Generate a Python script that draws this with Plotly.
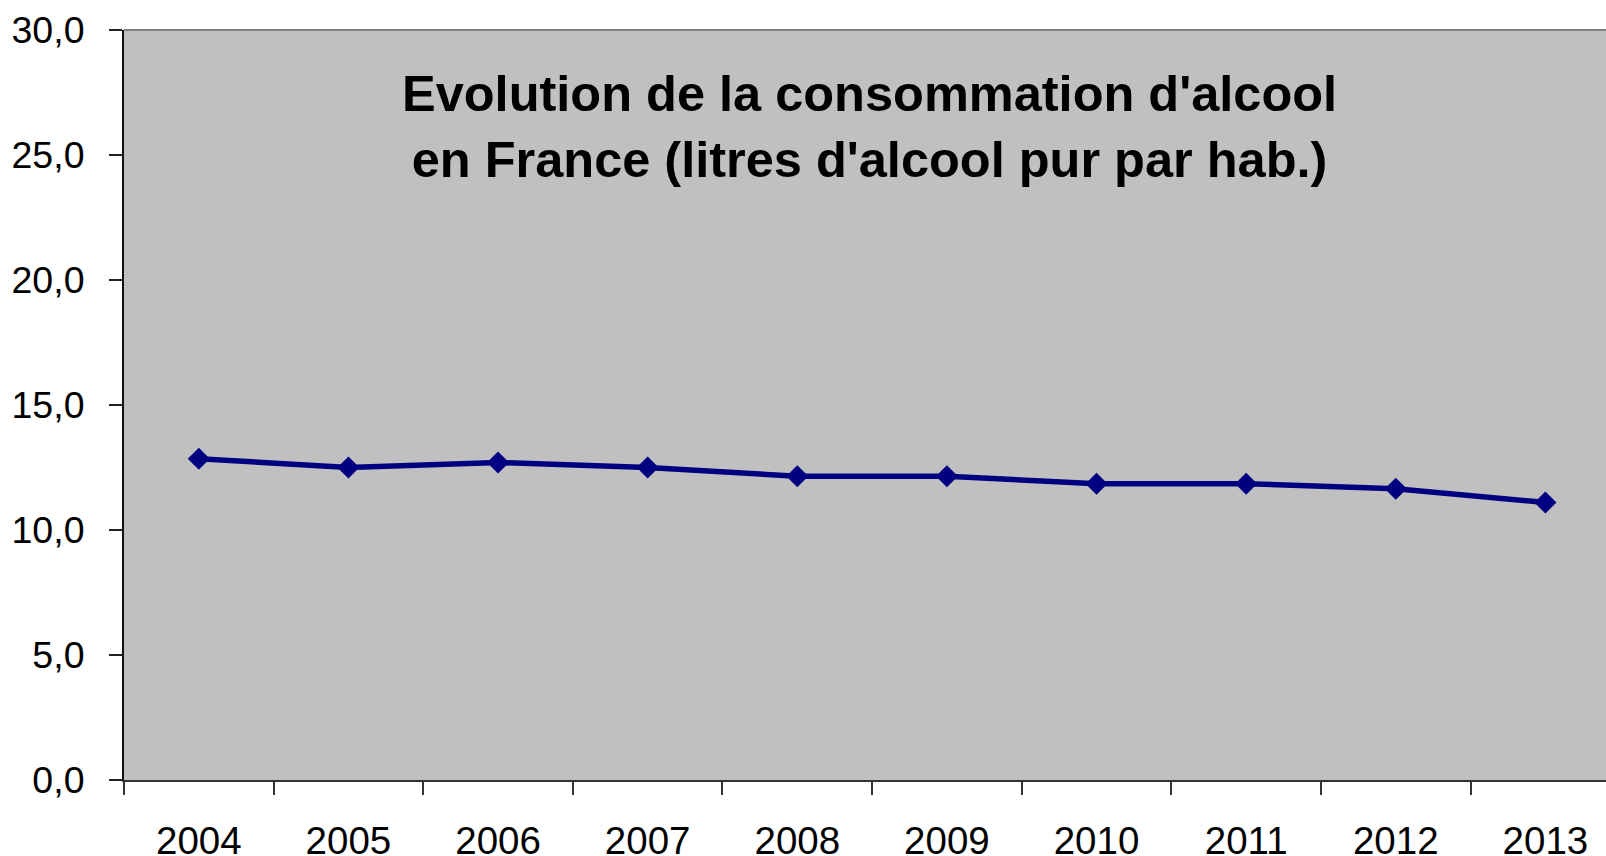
import plotly.graph_objects as go

years = ["2004", "2005", "2006", "2007", "2008", "2009", "2010", "2011", "2012", "2013"]
litres = [12.85, 12.5, 12.7, 12.5, 12.15, 12.15, 11.85, 11.85, 11.65, 11.1]
y_ticks = [0, 5, 10, 15, 20, 25, 30]
title_lines = ["Evolution de la consommation d'alcool", "en France (litres d'alcool pur par hab.)"]

FONT = "Liberation Sans, Arial, sans-serif"

fig = go.Figure()
fig.add_trace(go.Scatter(
    x=years, y=litres, mode="lines+markers",
    line=dict(color="#000080", width=5.5),
    marker=dict(symbol="diamond", size=17, color="#000080"),
    showlegend=False, hoverinfo="skip",
))

fig.update_layout(
    width=1606, height=856,
    margin=dict(l=124, r=0, t=30, b=76),
    paper_bgcolor="white", plot_bgcolor="#C0C0C0",
    separators=", ",
    font=dict(family=FONT, size=38, color="black"),
)
fig.update_xaxes(
    type="category", range=[-0.5, 9.405], automargin=False,
    tickson="boundaries", ticks="outside", ticklen=13, tickwidth=2, tickcolor="#333333",
    showline=True, linecolor="#333333", linewidth=2,
    showgrid=False, zeroline=False, ticklabelstandoff=26,
    tickfont=dict(family=FONT, size=38.5, color="black"),
)
fig.update_yaxes(
    range=[0, 30], tickvals=y_ticks, tickformat=".1f", automargin=False,
    ticks="outside", ticklen=13, tickwidth=2, tickcolor="#222222",
    showline=True, linecolor="#111111", linewidth=2,
    showgrid=False, zeroline=False, ticklabelstandoff=17,
    tickfont=dict(family=FONT, size=37.5, color="black"),
)
# top border of plot area
fig.add_shape(type="line", xref="paper", yref="paper", x0=0, x1=1, y0=1, y1=1,
              line=dict(color="#808080", width=2))
fig.add_annotation(
    xref="paper", yref="paper", x=0.503, y=0.872, xanchor="center", yanchor="middle",
    text="<b>" + title_lines[0] + "</b><br><b>" + title_lines[1] + "</b>",
    showarrow=False,
    font=dict(family=FONT, size=50.5, color="black"),
)

fig.write_html(
    "out.html",
    config={"displayModeBar": False},
    post_script="document.body.style.margin='0';document.body.style.overflow='hidden';",
)
